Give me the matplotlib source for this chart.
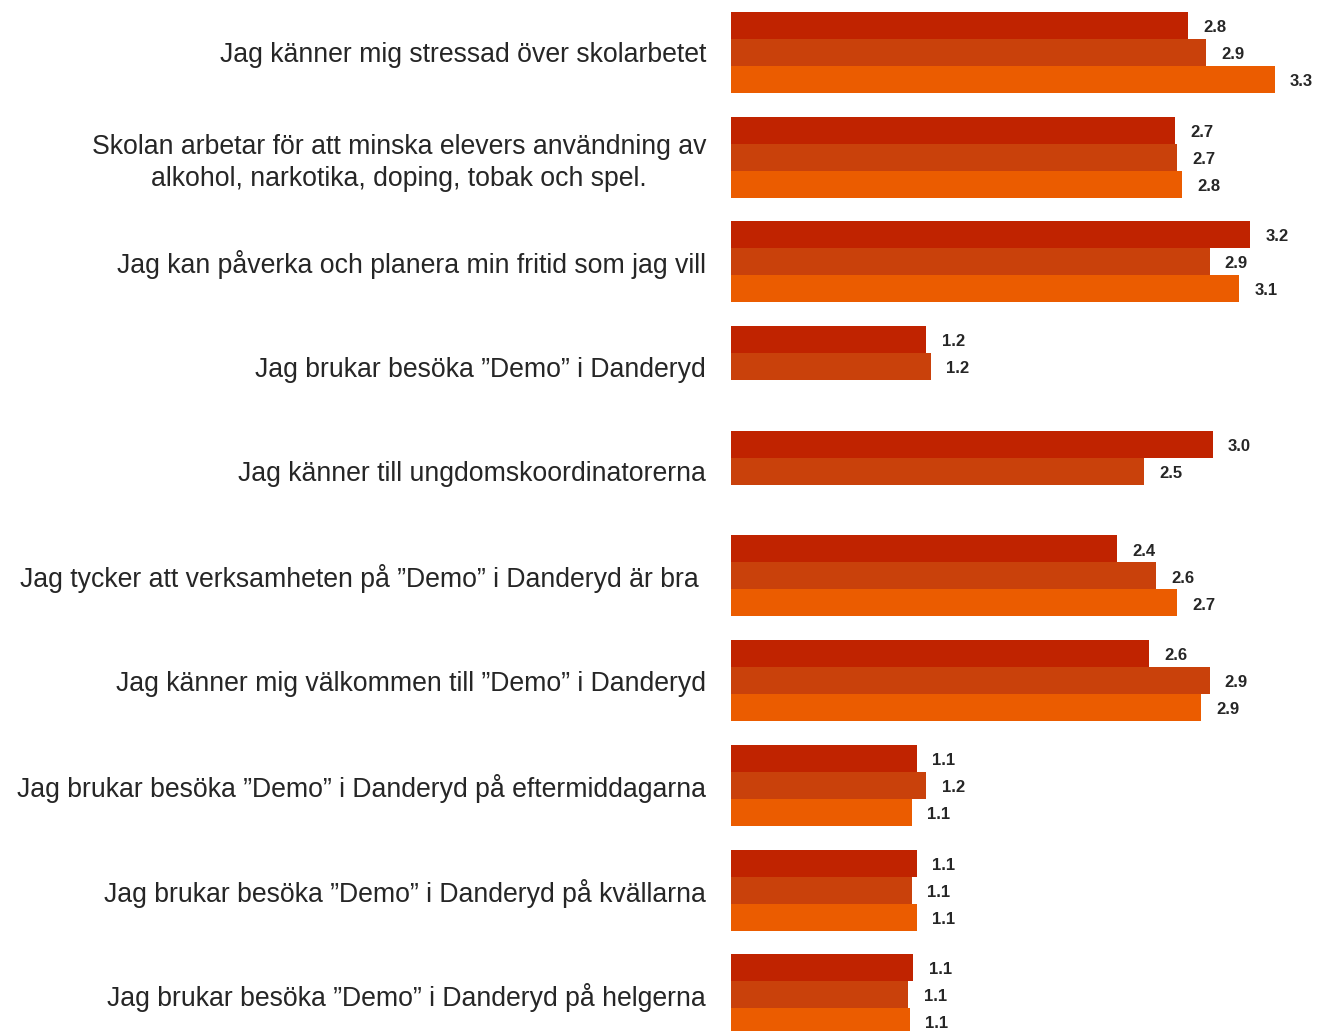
import matplotlib.pyplot as plt

plt.rcParams['font.family'] = ['Liberation Sans', 'DejaVu Sans']

categories = [
    "Jag känner mig stressad över skolarbetet",
    "Skolan arbetar för att minska elevers användning av\nalkohol, narkotika, doping, tobak och spel.",
    "Jag kan påverka och planera min fritid som jag vill",
    "Jag brukar besöka ”Demo” i Danderyd",
    "Jag känner till ungdomskoordinatorerna",
    "Jag tycker att verksamheten på ”Demo” i Danderyd är bra ",
    "Jag känner mig välkommen till ”Demo” i Danderyd",
    "Jag brukar besöka ”Demo” i Danderyd på eftermiddagarna",
    "Jag brukar besöka ”Demo” i Danderyd på kvällarna",
    "Jag brukar besöka ”Demo” i Danderyd på helgerna",
]

# three series (None = no bar)
serie_1 = [2.81, 2.73, 3.19, 1.20, 2.96, 2.37, 2.57, 1.14, 1.14, 1.12]
serie_2 = [2.92, 2.74, 2.94, 1.23, 2.54, 2.61, 2.94, 1.20, 1.11, 1.09]
serie_3 = [3.34, 2.77, 3.12, None, None, 2.74, 2.89, 1.11, 1.14, 1.10]

colors = ['#C02300', '#C9410B', '#EB5C00']

fig = plt.figure(figsize=(13.17, 10.31), dpi=100)
ax = fig.add_axes([731 / 1317, 0.0, 586 / 1317, 1.0])

h = 0.258
for k, (serie, col) in enumerate(zip([serie_1, serie_2, serie_3], colors)):
    for i, v in enumerate(serie):
        if v is None:
            continue
        y = i + (k - 1) * h
        ax.barh(y, v, height=h, color=col, edgecolor='none')
        ax.annotate(f"{v:.1f}", xy=(v, y), xytext=(11, -1.5), textcoords='offset points',
                    ha='left', va='center', fontsize=12, fontweight='bold', color='#262626')

ax.set_xlim(0, 3.6)
ax.set_ylim(9.346, -0.501)
ax.set_yticks(range(len(categories)))
ax.set_yticklabels(categories, fontsize=19.2, color='#262626', multialignment='center',
                   linespacing=1.3)
ax.tick_params(axis='y', length=0, pad=18)
ax.set_xticks([])
for s in ax.spines.values():
    s.set_visible(False)

plt.savefig('out.png', dpi=100)
